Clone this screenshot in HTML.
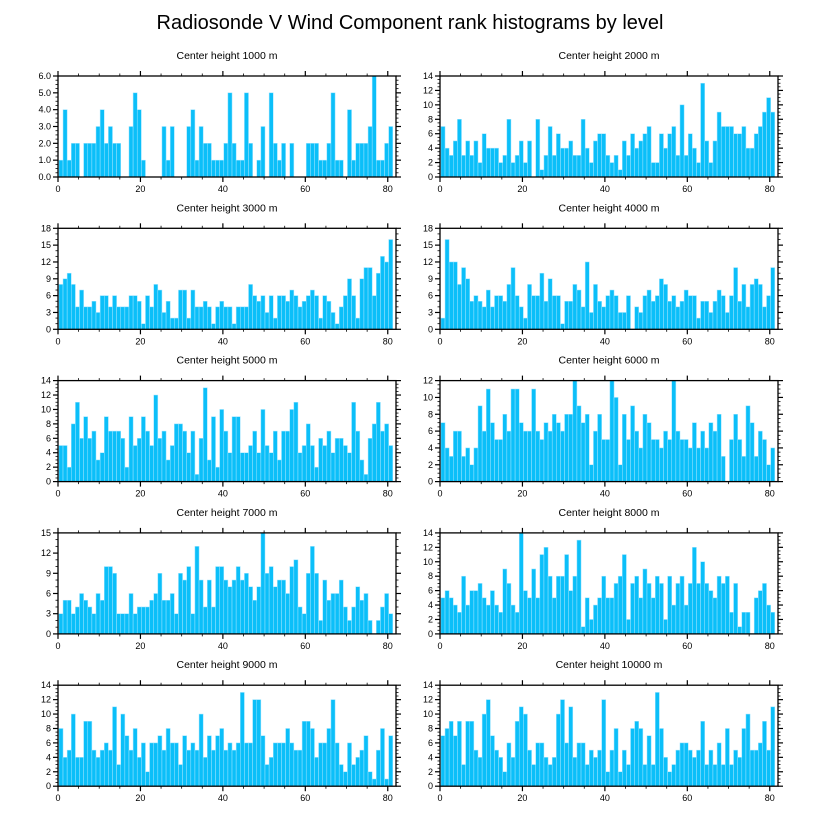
<!DOCTYPE html>
<html><head><meta charset="utf-8">
<style>
body{margin:0;background:#fff;}
svg{display:block;font-family:"Liberation Sans",Arial,sans-serif;}
</style></head>
<body>
<svg id="chart" width="818" height="824" viewBox="0 0 818 824">
<text x="410" y="29" text-anchor="middle" font-size="20" fill="#000">Radiosonde V Wind Component rank histograms by level</text>
</svg>
<script>
const titles = ["Center height 1000 m","Center height 2000 m","Center height 3000 m","Center height 4000 m","Center height 5000 m","Center height 6000 m","Center height 7000 m","Center height 8000 m","Center height 9000 m","Center height 10000 m"];
const xTicks = [0,20,40,60,80];
const yMaxes = [6,14,18,18,14,12,15,14,14,14];
const yStepsArr = [1,2,3,3,2,2,3,2,2,2];
const h1000 = [1,4,1,2,2,0,2,2,2,3,4,2,3,2,2,0,0,3,5,4,1,0,0,0,0,3,1,3,0,0,0,3,4,1,3,2,2,1,1,1,2,5,2,1,1,5,2,0,1,3,0,5,2,1,2,0,2,0,0,0,2,2,2,1,1,2,5,1,1,0,4,1,2,2,2,3,6,1,1,2,3];
const h2000 = [7,4,3,5,8,3,5,3,5,2,6,4,4,4,2,3,8,2,3,5,2,5,0,8,1,3,7,3,6,4,4,5,3,3,8,4,2,5,6,6,3,2,3,1,5,3,6,4,5,6,7,2,2,6,4,6,7,3,10,3,6,4,2,13,5,2,5,9,7,7,7,6,6,7,4,4,6,7,9,11,9];
const h3000 = [8,9,10,8,4,7,4,4,5,3,6,6,4,6,4,4,4,6,6,5,1,6,4,8,7,3,5,2,2,7,7,2,7,4,4,5,4,1,4,5,4,4,1,4,4,4,8,6,5,6,3,6,2,6,6,5,7,6,4,5,6,7,6,2,6,5,3,1,4,6,9,6,2,9,11,11,6,10,13,12,16];
const h4000 = [2,16,12,12,8,11,9,5,6,5,4,7,4,6,6,5,8,11,6,4,2,8,6,6,10,5,9,6,6,1,5,5,8,7,4,12,3,8,5,4,6,7,6,3,3,6,0,4,3,6,7,5,6,9,8,5,6,4,5,7,6,6,2,5,5,3,5,7,6,3,6,11,5,8,4,8,9,8,4,6,11];
const h5000 = [5,5,2,8,11,6,9,6,7,3,4,9,7,7,7,6,2,9,5,6,9,7,5,12,6,7,3,5,8,8,7,4,7,1,6,13,3,9,2,10,7,4,9,9,4,4,5,7,4,10,5,4,7,3,7,7,10,11,4,5,8,5,2,6,5,7,4,6,6,5,4,11,7,3,1,6,8,11,7,8,5];
const h6000 = [7,4,3,6,6,3,4,2,4,9,6,11,7,5,5,8,6,11,11,7,6,6,11,6,5,7,6,8,7,6,8,8,12,9,7,8,2,6,8,5,5,12,10,2,8,5,9,6,4,8,7,5,5,4,6,5,12,6,5,5,4,7,4,6,4,7,6,8,3,0,5,8,5,3,9,7,3,6,5,2,4];
const h7000 = [3,5,5,3,4,6,5,4,3,6,5,10,10,9,3,3,3,6,3,4,4,4,5,6,9,5,5,6,3,9,8,10,3,13,8,4,8,4,10,10,8,7,8,10,8,9,7,5,7,15,9,10,7,8,8,6,10,11,4,3,9,13,9,2,8,5,6,6,8,4,2,4,7,5,6,2,0,2,4,6,3];
const h8000 = [5,6,5,4,3,8,4,6,6,7,5,4,6,4,3,9,7,4,3,14,6,5,9,5,11,12,8,5,8,8,11,6,8,13,1,5,2,4,5,8,5,5,7,8,11,2,7,8,5,9,7,5,8,7,2,8,4,7,8,4,7,12,7,10,7,6,5,8,7,8,3,7,1,3,3,0,5,6,7,4,3];
const h9000 = [8,4,5,10,4,4,9,9,5,4,5,6,5,11,3,10,7,5,8,4,6,2,6,6,7,5,8,6,6,3,7,5,6,5,10,4,7,5,7,8,5,6,5,6,13,6,6,12,12,7,3,4,6,6,6,8,6,5,5,9,9,8,4,6,6,8,12,6,3,2,6,3,4,5,7,2,1,5,8,1,7];
const h10000 = [7,8,9,7,9,3,9,9,5,4,10,12,7,5,4,2,6,4,9,11,10,5,3,6,6,4,3,4,10,12,6,11,4,6,6,3,5,4,5,12,2,5,8,2,5,3,8,9,8,3,7,3,13,8,4,2,3,5,6,6,5,4,5,9,3,5,3,6,3,8,3,5,4,8,10,5,5,6,9,5,11];
const seriesList = [h1000,h2000,h3000,h4000,h5000,h6000,h7000,h8000,h9000,h10000];

const NS = "http://www.w3.org/2000/svg";
const svg = document.getElementById('chart');
function mk(tag, attrs, parent){
  const e = document.createElementNS(NS, tag);
  for (const k in attrs) e.setAttribute(k, attrs[k]);
  parent.appendChild(e);
  return e;
}
const XMAX = 82;
const W = 338, H = 101;
for (let p = 0; p < 10; p++){
  const col = p % 2, row = Math.floor(p/2);
  const L = col === 0 ? 58 : 440;
  const T = 76 + row*152.3;
  const B = T + H;
  const yMax = yMaxes[p], yStep = yStepsArr[p];
  const xs = v => L + v/XMAX*W;
  const ys = v => B - v/yMax*H;
  const g = mk('g', {}, svg);
  
  
  const t = mk('text', {x: L + W/2, y: T - 17, 'text-anchor':'middle', 'font-size':'10.5', fill:'#000'}, g);
  t.textContent = titles[p];
  
  
  const data = seriesList[p];
  for (let i = 0; i < data.length; i++){
    if (data[i] <= 0) continue;
    const r = mk('rect', {x: xs(i+0.22), y: ys(data[i]), width: xs(i+1.22)-xs(i+0.22), height: B - ys(data[i]), fill:'#0bbff9', stroke:'#9fe4ff', 'stroke-width':'0.5'}, g);
    
    
  }
  const fr = mk('rect', {x:L, y:T, width:W, height:H, fill:'none', stroke:'#000', 'stroke-width':'1.3'}, g);
  
  
  // x ticks
  for (let v = 0; v <= XMAX; v += 5){
    const major = v % 20 === 0;
    const len = major ? 5 : 2.5;
    const x = xs(v);
    mk('line', {x1:x, y1:B, x2:x, y2:B+len, stroke:'#000', 'stroke-width': major?1.2:0.8}, g);
    mk('line', {x1:x, y1:T, x2:x, y2:T-len, stroke:'#000', 'stroke-width': major?1.2:0.8}, g);
  }
  for (const v of xTicks){
    const tl = mk('text', {x: xs(v), y: B+15, 'text-anchor':'middle', 'font-size':'9', fill:'#000'}, g);
    tl.textContent = v;
    
    
  }
  // y ticks
  const minorStep = yStep/ (yStep===3 ? 3 : 4);
  for (let k = 0; k*minorStep <= yMax + 1e-9; k++){
    const v = k*minorStep;
    const major = Math.abs(v/yStep - Math.round(v/yStep)) < 1e-6;
    const len = major ? 5 : 2.5;
    const y = ys(v);
    mk('line', {x1:L, y1:y, x2:L-len, y2:y, stroke:'#000', 'stroke-width': major?1.2:0.8}, g);
    mk('line', {x1:L+W, y1:y, x2:L+W+len, y2:y, stroke:'#000', 'stroke-width': major?1.2:0.8}, g);
  }
  for (let v = 0; v <= yMax + 1e-9; v += yStep){
    const tl = mk('text', {x: L-7, y: ys(v)+3, 'text-anchor':'end', 'font-size':'9', fill:'#000'}, g);
    tl.textContent = p === 0 ? v.toFixed(1) : v;
    
    
  }
}
</script>
</body></html>
